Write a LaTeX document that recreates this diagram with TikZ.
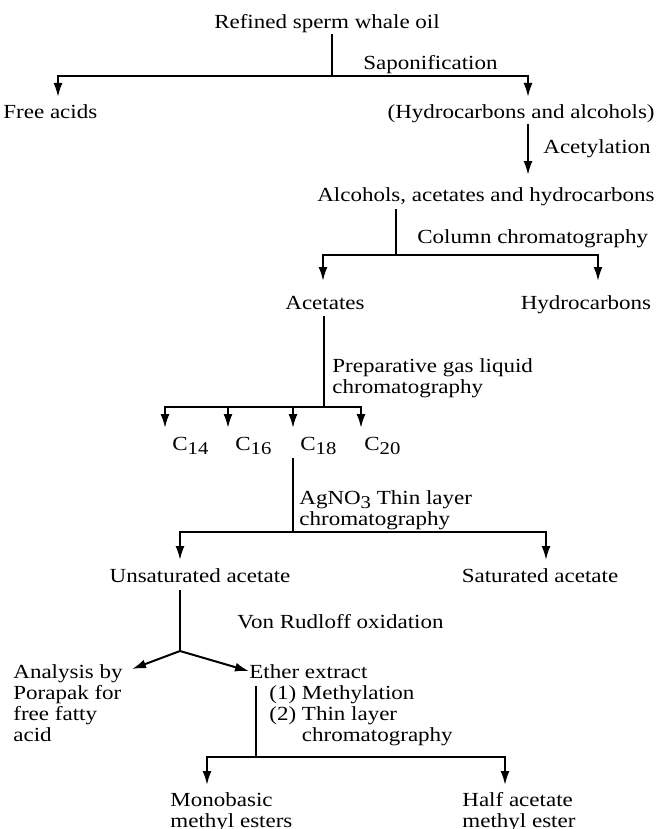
\documentclass[tikz,border=0pt]{standalone}
\usepackage{fontspec}
\setmainfont{Liberation Serif}[FakeStretch=1.15]
\usetikzlibrary{arrows.meta}
\newcommand\lowidx[1]{\raisebox{-.5ex}{\small #1}}

\begin{document}
\begin{tikzpicture}[x=0.5pt,y=-0.5pt,
  every node/.style={inner sep=0pt,font=\fontsize{10}{10.6}\selectfont},
  txt/.style={anchor=north west,align=left},
  link/.style={line width=1pt},
  flow/.style={line width=1pt,-{Latex[length=7pt,width=4.5pt]}}]
\useasboundingbox (0,0) rectangle (658,829);

\node[anchor=base] (oil) at (327,29) {Refined sperm whale oil};
\node[anchor=base west] (sapon) at (363,69) {Saponification};
\node[anchor=base west] (freeacid) at (3,119) {Free acids};
\node[anchor=base east] (hcalc) at (655,119) {(Hydrocarbons and alcohols)};
\node[anchor=base west] (acetyl) at (543,154) {Acetylation};
\node[anchor=base east] (mix) at (655,201) {Alcohols, acetates and hydrocarbons};
\node[anchor=base west] (colchrom) at (417,243) {Column chromatography};
\node[anchor=base] (acetates) at (325,309) {Acetates};
\node[anchor=base] (hcarbons) at (586,309) {Hydrocarbons};
\node[txt] (glc) at (332,358) {Preparative gas liquid\\chromatography};
\node[anchor=base west] (c14) at (172,450) {C\lowidx{14}};
\node[anchor=base west] (c16) at (235,450) {C\lowidx{16}};
\node[anchor=base west] (c18) at (300,450) {C\lowidx{18}};
\node[anchor=base west] (c20) at (364,450) {C\lowidx{20}};
\node[txt] (agtlc) at (299,490) {AgNO\lowidx{3} Thin layer\\chromatography};
\node[anchor=base] (unsat) at (200,582) {Unsaturated acetate};
\node[anchor=base] (sat) at (540,582) {Saturated acetate};
\node[anchor=base west] (rudloff) at (237,628) {Von Rudloff oxidation};
\node[txt] (porapak) at (13,664) {Analysis by\\Porapak for\\free fatty\\acid};
\node[anchor=base west] (ether) at (249,678) {Ether extract};
\node[txt] (methtlc) at (269,685) {(1) Methylation\\(2) Thin layer\\\phantom{(2) }chromatography};
\node[txt] (monobasic) at (170,792) {Monobasic\\methyl esters};
\node[txt] (halfacet) at (462,792) {Half acetate\\methyl ester};

% saponification
\coordinate (sapj) at (332,76);
\coordinate (freetip) at (58,97);
\coordinate (hcatip) at (528,97);
\draw[link] ([yshift=-2.5pt]oil.base -| sapj) -- (sapj);
\draw[flow] (sapj) -| (freetip);
\draw[flow] (sapj) -| (hcatip);

\coordinate (mixtip) at (528,175);
\draw[flow] ([yshift=-2.5pt]hcalc.base -| mixtip) -- (mixtip);

% column
\coordinate (colj) at (396,255);
\coordinate (acettip) at (323,281);
\coordinate (hctip) at (598,281);
\draw[link] ([yshift=-4pt]mix.base -| colj) -- (colj);
\draw[flow] (colj) -| (acettip);
\draw[flow] (colj) -| (hctip);

% glc
\coordinate (glcj) at (324,407);
\draw[link] ([yshift=-3.5pt]acetates.base -| glcj) -- (glcj);
\foreach \n/\cx in {14/165,16/228,18/293,20/361} {
  \coordinate (t\n) at (\cx,428);
  \draw[flow] (glcj) -| (t\n);
}

% AgNO3 tlc
\coordinate (agj) at (293,532);
\coordinate (unsattip) at (180,560);
\coordinate (sattip) at (546,560);
\draw[link] ([yshift=-4pt]c18.base -| agj) -- (agj);
\draw[flow] (agj) -| (unsattip);
\draw[flow] (agj) -| (sattip);

% oxidation
\coordinate (vrj) at (180,651);
\coordinate (poratip) at (132,669);
\draw[link] ([yshift=-4pt]unsat.base -| vrj) -- (vrj);
\draw[flow] (vrj) -- (poratip);
\draw[flow] (vrj) -- (ether.west);

\coordinate (metj) at (256,757);
\coordinate (monotip) at (207,785);
\coordinate (halftip) at (505,785);
\draw[link] ([yshift=-4pt]ether.base -| metj) -- (metj);
\draw[flow] (metj) -| (monotip);
\draw[flow] (metj) -| (halftip);
\end{tikzpicture}
\end{document}
